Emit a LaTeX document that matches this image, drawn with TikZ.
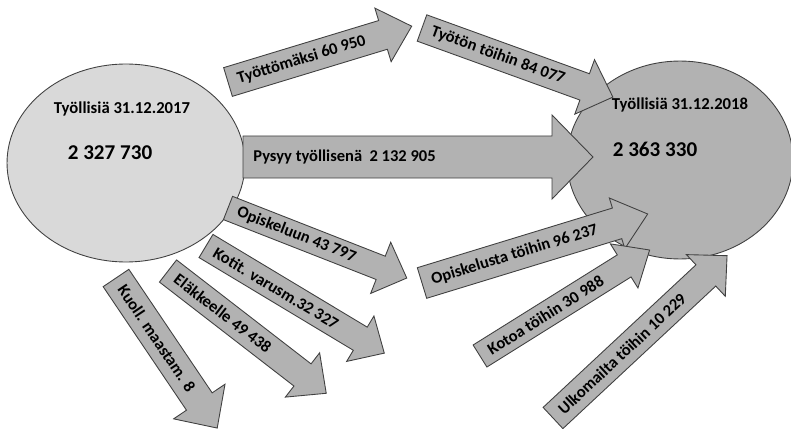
\documentclass[tikz,border=0pt]{standalone}
\usepackage{fontspec}
\setmainfont{Carlito}
\usetikzlibrary{shapes.geometric, positioning}

\tikzset{
  stock/.style={draw=black!75, line width=0.5pt, ellipse, inner sep=0pt},
  flowbody/.style={draw=black!75, fill=gray!60, line width=0.5pt},
  flowlabel/.style={anchor=west, inner sep=0pt, font=\bfseries\fontsize{9.4}{10}\selectfont, transform shape},
  stocktitle/.style={inner sep=0pt, font=\bfseries\fontsize{9.5}{11}\selectfont},
  stocknum/.style={inner sep=0pt, font=\bfseries\fontsize{12}{14}\selectfont},
}
% #1 name, #2 tail, #3 angle, #4 length, #5 shaft, #6 head width, #7 head length, #8 text
\newcommand{\flowarrow}[8]{%
  \begin{scope}[shift={#2}, rotate=#3]
    \draw[flowbody] (0,{-#5/2}) -- ({#4-#7},{-#5/2}) -- ({#4-#7},{-#6/2}) -- (#4,0)
      -- ({#4-#7},{#6/2}) -- ({#4-#7},{#5/2}) -- (0,{#5/2}) -- cycle;
    \node[flowlabel] (#1) at (10,0) {#8};
  \end{scope}}

\begin{document}
\begin{tikzpicture}[x=0.02cm, y=-0.02cm]
        \clip (0,0) rectangle (791,429);

        \node (emp17) [stock, fill=gray!30, minimum width=4.76cm, minimum height=3.96cm] at (126,163) {};
        \node (emp18) [stock, fill=gray!60, minimum width=4.52cm, minimum height=3.96cm] at (680,160) {};

        \node (title17) [stocktitle] at (122,109) {Työllisiä 31.12.2017};
        \node (num17) [stocknum] at (110,153) {2 327 730};
        \node (title18) [stocktitle] at (680,105) {Työllisiä 31.12.2018};
        \node (num18) [stocknum] at (655,149) {2 363 330};

        \flowarrow{pysyy}{(243,157)}{0}{350}{42}{84}{41}{Pysyy työllisenä\ \ 2 132 905}
        \flowarrow{tyottomaksi}{(228,82)}{16.9}{192}{30}{56}{30}{Työttömäksi 60 950}
        \flowarrow{tyoton}{(422,28)}{-19.9}{203}{28}{58}{30}{Työtön töihin 84 077}
        \flowarrow{opiskeluun}{(228,208)}{-21.4}{192}{25}{55}{28}{Opiskeluun 43 797}
        \flowarrow{kotit}{(206,246)}{-31}{208}{27}{53}{28}{Kotit. varusm.32 327}
        \flowarrow{elakkeelle}{(168,271)}{-37.7}{200}{28}{56}{30}{Eläkkeelle 49 438}
        \flowarrow{kuoll}{(116,278)}{-56}{181}{31}{62}{32}{Kuoll. maastam. 8}
        \flowarrow{opiskelusta}{(422,283)}{17}{236}{32}{53}{32}{Opiskelusta töihin 96 237}
        \flowarrow{kotoa}{(480,356)}{32}{200}{26}{52}{30}{Kotoa töihin 30 988}
        \flowarrow{ulkomailta}{(553,418)}{43}{238}{29}{57}{29}{Ulkomailta töihin 10 229}
\end{tikzpicture}
\end{document}
